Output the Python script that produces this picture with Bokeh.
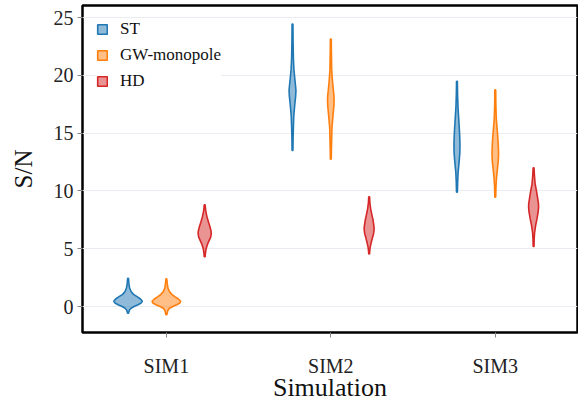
from bokeh.plotting import figure
from bokeh.models import Range1d, FixedTicker
from bokeh.embed import file_html
from bokeh.resources import INLINE

# Simulations on the x axis and the three correlation models
simulations = ["SIM1", "SIM2", "SIM3"]
models = ["ST", "GW-monopole", "HD"]
colors = ["#1f77b4", "#ff7f0e", "#d62728"]

# Violin profiles: S/N levels and relative density at each level
# (density 1.0 = widest violin of the chart)
st_sim1_sn = [2.45, 2.0, 1.6, 1.3, 1.05, 0.85, 0.65, 0.45, 0.3, 0.15, 0.0, -0.15, -0.3, -0.58]
st_sim1_d = [0.03, 0.06, 0.11, 0.21, 0.38, 0.63, 0.87, 1.0, 0.91, 0.70, 0.42, 0.21, 0.10, 0.03]
gw_sim1_sn = [2.4, 2.0, 1.6, 1.3, 1.05, 0.85, 0.65, 0.45, 0.3, 0.15, 0.0, -0.15, -0.35, -0.72]
gw_sim1_d = [0.03, 0.06, 0.11, 0.21, 0.38, 0.59, 0.84, 1.0, 0.94, 0.73, 0.45, 0.22, 0.10, 0.03]
hd_sim1_sn = [8.8, 8.3, 7.8, 7.3, 6.9, 6.5, 6.3, 6.0, 5.7, 5.4, 5.0, 4.6, 4.3]
hd_sim1_d = [0.03, 0.07, 0.15, 0.27, 0.37, 0.45, 0.46, 0.42, 0.31, 0.20, 0.10, 0.05, 0.03]

st_sim2_sn = [24.45, 23.0, 21.5, 20.5, 19.6, 19.0, 18.7, 18.2, 17.5, 16.5, 15.5, 14.5, 13.5]
st_sim2_d = [0.03, 0.04, 0.06, 0.10, 0.17, 0.22, 0.24, 0.22, 0.16, 0.09, 0.06, 0.04, 0.03]
gw_sim2_sn = [23.15, 22.0, 20.5, 19.6, 18.8, 18.2, 17.8, 17.3, 16.5, 15.5, 14.5, 13.5, 12.75]
gw_sim2_d = [0.03, 0.04, 0.06, 0.11, 0.17, 0.22, 0.23, 0.21, 0.15, 0.08, 0.06, 0.04, 0.03]
hd_sim2_sn = [9.5, 9.0, 8.5, 8.0, 7.5, 7.0, 6.7, 6.3, 5.9, 5.5, 5.1, 4.8, 4.55]
hd_sim2_d = [0.03, 0.05, 0.10, 0.18, 0.27, 0.33, 0.35, 0.31, 0.22, 0.14, 0.07, 0.04, 0.03]

st_sim3_sn = [19.5, 18.5, 17.3, 16.3, 15.3, 14.5, 13.9, 13.3, 12.5, 11.6, 10.8, 9.9]
st_sim3_d = [0.03, 0.04, 0.07, 0.12, 0.17, 0.20, 0.21, 0.20, 0.15, 0.08, 0.05, 0.03]
gw_sim3_sn = [18.75, 17.5, 16.3, 15.5, 14.6, 13.7, 13.2, 12.6, 11.9, 11.2, 10.4, 9.45]
gw_sim3_d = [0.03, 0.04, 0.07, 0.12, 0.18, 0.22, 0.23, 0.21, 0.15, 0.09, 0.05, 0.03]
hd_sim3_sn = [12.0, 11.3, 10.6, 10.0, 9.4, 8.9, 8.6, 8.2, 7.6, 7.0, 6.4, 5.8, 5.2]
hd_sim3_d = [0.03, 0.06, 0.11, 0.20, 0.28, 0.34, 0.35, 0.32, 0.24, 0.14, 0.07, 0.04, 0.03]

profiles = {
    "ST": [(st_sim1_sn, st_sim1_d), (st_sim2_sn, st_sim2_d), (st_sim3_sn, st_sim3_d)],
    "GW-monopole": [(gw_sim1_sn, gw_sim1_d), (gw_sim2_sn, gw_sim2_d), (gw_sim3_sn, gw_sim3_d)],
    "HD": [(hd_sim1_sn, hd_sim1_d), (hd_sim2_sn, hd_sim2_d), (hd_sim3_sn, hd_sim3_d)],
}

DODGE = 0.233      # horizontal offset between models inside a group
HALF_WIDTH = 0.087 # half-width (x units) of a violin at density 1.0
SERIF = "Liberation Serif"

p = figure(width=578, height=404, output_backend="svg", toolbar_location=None,
           x_range=Range1d(-0.51, 2.5), y_range=Range1d(-2.25, 26.05),
           min_border_left=82, min_border_right=1, min_border_top=5, min_border_bottom=72)

for m, (model, color) in enumerate(zip(models, colors)):
    offset = (m - 1) * DODGE
    xs, ys = [], []
    for s, (sn, dens) in enumerate(profiles[model]):
        center = s + offset
        right = [center + d * HALF_WIDTH for d in dens]
        left = [center - d * HALF_WIDTH for d in reversed(dens)]
        xs.append(right + left)
        ys.append(list(sn) + list(reversed(sn)))
    p.patches(xs, ys, fill_color=color, fill_alpha=0.5, line_color=color,
              line_width=1.6, legend_label=model)

# Frame and grid
p.outline_line_color = "black"
p.outline_line_width = 2.5
p.outline_line_alpha = 1.0
p.xgrid.grid_line_color = None
p.ygrid.grid_line_color = "#ebebf2"
p.ygrid.grid_line_width = 1
p.background_fill_color = "white"
p.border_fill_color = "white"

# Axes
p.xaxis.ticker = FixedTicker(ticks=[0, 1, 2])
p.xaxis.major_label_overrides = {i: name for i, name in enumerate(simulations)}
p.yaxis.ticker = FixedTicker(ticks=[0, 5, 10, 15, 20, 25])
for ax in (p.xaxis[0], p.yaxis[0]):
    ax.axis_line_color = None
    ax.major_tick_line_color = "#888888"
    ax.major_tick_out = 5
    ax.major_tick_in = 0
    ax.minor_tick_line_color = None
    ax.major_label_text_font = SERIF
    ax.major_label_text_font_size = "20px"
    ax.major_label_text_font_style = "normal"
    ax.major_label_text_color = "#222222"
    ax.axis_label_text_font = SERIF
    ax.axis_label_text_font_style = "normal"
    ax.axis_label_text_color = "#111111"
p.xaxis.axis_label = "Simulation"
p.yaxis.axis_label = "S/N"
p.xaxis.axis_label_text_font_size = "26px"
p.yaxis.axis_label_text_font_size = "25px"
p.xaxis.major_label_standoff = 17
p.xaxis.axis_label_standoff = -7
p.yaxis.major_label_standoff = 4
p.yaxis.axis_label_standoff = 14

# Legend
leg = p.legend[0]
leg.location = "top_left"
leg.margin = 14
leg.padding = 6
leg.spacing = 6
leg.glyph_width = 12
leg.glyph_height = 12
leg.label_standoff = 12
leg.label_height = 20
leg.label_text_font = SERIF
leg.label_text_font_style = "normal"
leg.label_text_font_size = "17px"
leg.label_text_color = "#111111"
leg.border_line_color = None
leg.background_fill_color = "white"
leg.background_fill_alpha = 1.0

open("out.html", "w").write(file_html(p, INLINE))
